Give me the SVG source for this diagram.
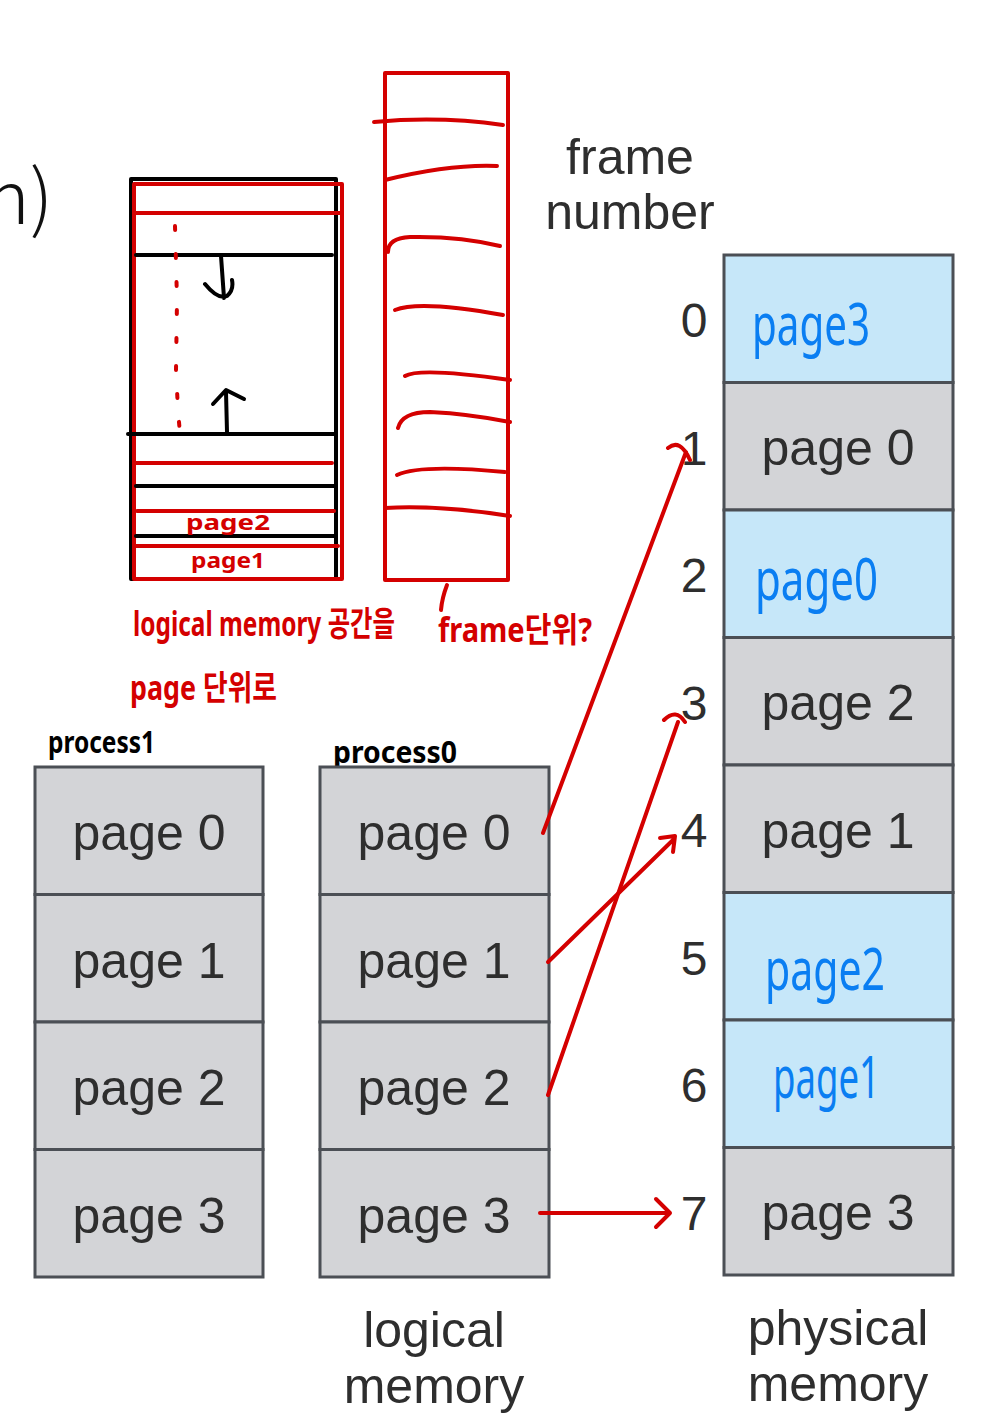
<svg xmlns="http://www.w3.org/2000/svg" width="1000" height="1425" viewBox="0 0 1000 1425">
<style>
.bg{fill:#ffffff}
.cell{stroke:#4b4f55;stroke-width:3}
.gray{fill:#d3d4d7}
.blue{fill:#c6e7f9}
.pt{font-family:"Liberation Sans",Arial,sans-serif;font-size:50px;fill:#2e2e2e;text-anchor:middle}
.lbl{font-family:"Liberation Sans",Arial,sans-serif;font-size:50px;fill:#2e2e2e;text-anchor:middle}
.num{font-family:"Liberation Sans",Arial,sans-serif;font-size:48px;fill:#2e2e2e;text-anchor:middle}
.hb{font-family:"Noto Sans","Noto Sans CJK KR",sans-serif;fill:#0a7ef2;font-size:58px}
.hr{font-family:"Noto Sans","Noto Sans CJK KR",sans-serif;fill:#d40000;font-weight:bold}
.hk{font-family:"Noto Sans","Noto Sans CJK KR",sans-serif;fill:#000;font-weight:bold;font-size:30px}
.red{fill:none;stroke:#d40000;stroke-width:4;stroke-linecap:round;stroke-linejoin:round}
.blk{fill:none;stroke:#000;stroke-width:4;stroke-linecap:round;stroke-linejoin:round}
</style>
<rect class="bg" x="0" y="0" width="1000" height="1425"/>

<!-- partial heading -->
<text x="-14" y="224" font-family="Noto Sans CJK KR, Noto Sans, sans-serif" font-size="74" font-weight="300" fill="#111">n)</text>

<!-- top-left sketch: logical memory -->
<g id="sketch-logical">
  <rect x="131" y="179" width="205" height="400" class="blk"/>
  <rect x="134" y="184" width="208" height="395" class="red"/>
  <path class="red" d="M135,213 L340,213"/>
  <path class="blk" d="M136,255 L332,255"/>
  <path class="blk" d="M128,434 L335,434"/>
  <path class="red" d="M136,463 L332,463"/>
  <path class="blk" d="M136,486 L335,486"/>
  <path class="red" d="M137,511 L334,511"/>
  <path class="blk" d="M136,536 L335,536"/>
  <path class="red" d="M136,546 L338,546"/>
  <path class="red" d="M175,226 L177,300 L176,370 L178,410 L181,446" stroke-dasharray="4 24" stroke-width="5"/>
  <path class="blk" d="M221,256 L224,298 M205,284 Q218,300 227,296 Q234,290 232,280"/>
  <path class="blk" d="M227,432 L226,392 M213,404 L226,390 L244,399"/>
  <text class="hr" x="186" y="530" font-size="22" textLength="84" lengthAdjust="spacingAndGlyphs">page2</text>
  <text class="hr" x="191" y="568" font-size="22" textLength="74" lengthAdjust="spacingAndGlyphs">page1</text>
</g>

<!-- top sketch: frames -->
<g id="sketch-frames">
  <rect x="385" y="73" width="123" height="507" class="red"/>
  <path class="red" d="M374,122 Q440,116 503,125"/>
  <path class="red" d="M385,180 Q450,164 497,166"/>
  <path class="red" d="M388,252 Q388,238 410,237 Q460,236 500,246"/>
  <path class="red" d="M395,310 Q420,300 503,315"/>
  <path class="red" d="M405,376 Q420,367 510,380"/>
  <path class="red" d="M398,428 Q402,412 430,412 Q470,414 510,422"/>
  <path class="red" d="M397,475 Q420,464 505,472"/>
  <path class="red" d="M385,508 Q440,505 510,516"/>
  <path class="red" d="M447,585 Q442,598 441,610"/>
</g>

<!-- red annotations -->
<g id="annotations">
  <text class="hr" x="133" y="636" font-size="34" textLength="262" lengthAdjust="spacingAndGlyphs">logical memory 공간을</text>
  <text class="hr" x="130" y="700" font-size="34" textLength="147" lengthAdjust="spacingAndGlyphs">page 단위로</text>
  <text class="hr" x="438" y="642" font-size="34" textLength="154" lengthAdjust="spacingAndGlyphs">frame단위?</text>
  <text class="hk" x="48" y="753" textLength="107" lengthAdjust="spacingAndGlyphs">process1</text>
  <text class="hk" x="333" y="763" textLength="124" lengthAdjust="spacingAndGlyphs">process0</text>
</g>

<!-- process1 logical memory -->
<g id="process1">
  <rect class="cell gray" x="35" y="767" width="228" height="127.5"/>
  <rect class="cell gray" x="35" y="894.5" width="228" height="127.5"/>
  <rect class="cell gray" x="35" y="1022" width="228" height="127.5"/>
  <rect class="cell gray" x="35" y="1149.5" width="228" height="127.5"/>
  <text class="pt" x="149" y="850">page 0</text>
  <text class="pt" x="149" y="978">page 1</text>
  <text class="pt" x="149" y="1105">page 2</text>
  <text class="pt" x="149" y="1233">page 3</text>
</g>

<!-- process0 logical memory -->
<g id="process0">
  <rect class="cell gray" x="320" y="767" width="229" height="127.5"/>
  <rect class="cell gray" x="320" y="894.5" width="229" height="127.5"/>
  <rect class="cell gray" x="320" y="1022" width="229" height="127.5"/>
  <rect class="cell gray" x="320" y="1149.5" width="229" height="127.5"/>
  <text class="pt" x="434" y="850">page 0</text>
  <text class="pt" x="434" y="978">page 1</text>
  <text class="pt" x="434" y="1105">page 2</text>
  <text class="pt" x="434" y="1233">page 3</text>
</g>

<!-- physical memory -->
<g id="physical">
  <rect class="cell blue" x="724" y="255" width="229" height="127.5"/>
  <rect class="cell gray" x="724" y="382.5" width="229" height="127.5"/>
  <rect class="cell blue" x="724" y="510" width="229" height="127.5"/>
  <rect class="cell gray" x="724" y="637.5" width="229" height="127.5"/>
  <rect class="cell gray" x="724" y="765" width="229" height="127.5"/>
  <rect class="cell blue" x="724" y="892.5" width="229" height="127.5"/>
  <rect class="cell blue" x="724" y="1020" width="229" height="127.5"/>
  <rect class="cell gray" x="724" y="1147.5" width="229" height="127.5"/>
  <text class="pt" x="838" y="465">page 0</text>
  <text class="pt" x="838" y="720">page 2</text>
  <text class="pt" x="838" y="848">page 1</text>
  <text class="pt" x="838" y="1230">page 3</text>
  <text class="hb" x="752" y="345" textLength="118" lengthAdjust="spacingAndGlyphs">page3</text>
  <text class="hb" x="755" y="600" textLength="123" lengthAdjust="spacingAndGlyphs">page0</text>
  <text class="hb" x="765" y="990" textLength="120" lengthAdjust="spacingAndGlyphs">page2</text>
  <text class="hb" x="773" y="1098" textLength="107" lengthAdjust="spacingAndGlyphs">page1</text>
</g>

<!-- frame numbers -->
<g id="frame-numbers">
  <text class="num" x="694" y="337">0</text>
  <text class="num" x="694" y="465">1</text>
  <text class="num" x="694" y="592">2</text>
  <text class="num" x="694" y="720">3</text>
  <text class="num" x="694" y="847">4</text>
  <text class="num" x="694" y="975">5</text>
  <text class="num" x="694" y="1102">6</text>
  <text class="num" x="694" y="1230">7</text>
</g>

<!-- labels -->
<g id="labels">
  <text class="lbl" x="630" y="174">frame</text>
  <text class="lbl" x="630" y="229">number</text>
  <text class="lbl" x="434" y="1347">logical</text>
  <text class="lbl" x="434" y="1403">memory</text>
  <text class="lbl" x="838" y="1345">physical</text>
  <text class="lbl" x="838" y="1401">memory</text>
</g>

<!-- connectors -->
<g id="connectors">
  <path class="red" d="M543,833 L686,452 M668,448 Q680,438 690,460"/>
  <path class="red" d="M548,962 L673,840 M660,838 L675,836 L673,852"/>
  <path class="red" d="M548,1095 L678,722 M664,720 Q676,708 685,722"/>
  <path class="red" d="M540,1213 L670,1213 M656,1199 L670,1213 L656,1227"/>
</g>
</svg>
